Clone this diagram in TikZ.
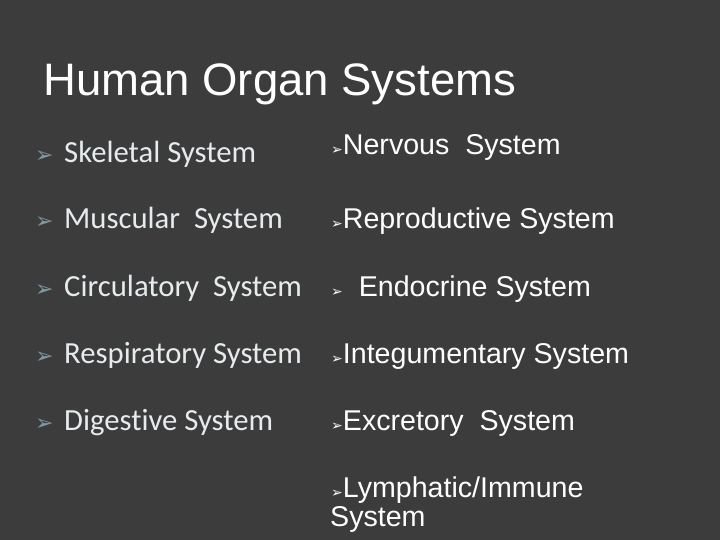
\documentclass[tikz,border=0pt]{standalone}
\usepackage{fontspec}
\setmainfont{Liberation Sans}
\newfontfamily\calib[Ligatures=NoCommon]{Carlito}
\newfontfamily\dvs{DejaVu Sans}
\newcommand\rarw{{\dvs\fontsize{14}{14}\selectfont ➢}}
\definecolor{bg}{HTML}{3C3C3C}
\definecolor{lefttxt}{HTML}{E6ECEE}
\definecolor{arr}{HTML}{7F99A6}
\begin{document}
\begin{tikzpicture}[x=1pt,y=1pt,
  titlest/.style={anchor=base west,inner sep=0,text=white,font=\fontsize{45.5}{45.5}\selectfont},
  leftst/.style={anchor=base west,inner sep=0,text=lefttxt,font=\calib\fontsize{30.7}{30.7}\selectfont},
  leftar/.style={anchor=base west,inner sep=0,text=arr,font=\dvs\fontsize{22}{22}\selectfont},
  rightst/.style={anchor=base west,inner sep=0,text=white,font=\fontsize{28.6}{28.6}\selectfont}]
\fill[bg] (0,0) rectangle (720,540);
\useasboundingbox (0,0) rectangle (720,540);
\node[titlest] (t) at (43,444) {Human Organ Systems};
\foreach \n/\y/\txt in {a/163/Skeletal System,b/229/Muscular\ \ System,c/297/Circulatory\ \ System,d/364/Respiratory System,e/431/Digestive System}{
  \node[leftar] (ar\n) at (35,540-\y) {➢};
  \node[leftst] (l\n) at (64,540-\y) {\txt};
}
\node[rightst] (r1) at (331,540-155) {\rarw Nervous\ \ System};
\node[rightst] (r2) at (331,540-229) {\rarw Reproductive\ System};
\node[rightst] (r3) at (331,540-297) {\rarw\ \ Endocrine\ System};
\node[rightst] (r4) at (331,540-364) {\rarw Integumentary\ System};
\node[rightst] (r5) at (331,540-431) {\rarw Excretory\ \ System};
\node[rightst] (r6) at (331,540-498) {\rarw Lymphatic/Immune};
\node[rightst] (r7) at (330,540-527) {System};
\end{tikzpicture}
\end{document}
